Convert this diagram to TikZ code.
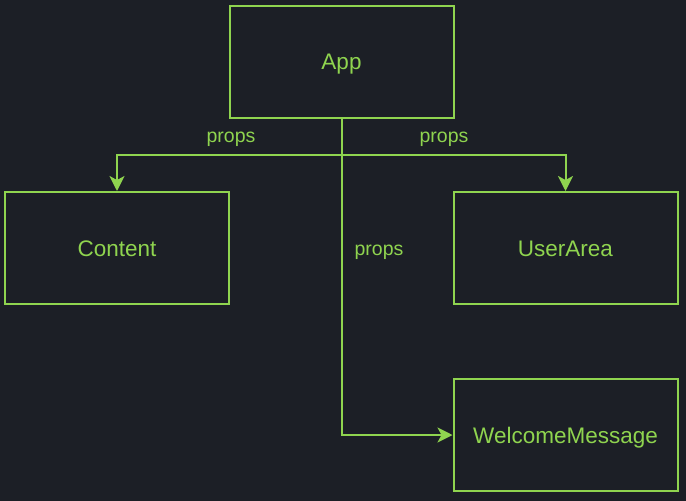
\documentclass[tikz,border=0pt]{standalone}
\usepackage{fontspec}
\setmainfont{Liberation Sans}
\usetikzlibrary{arrows.meta}
\definecolor{bg}{HTML}{1C1F26}
\definecolor{leaf}{HTML}{8FD44F}
\begin{document}
\begin{tikzpicture}[x=1pt,y=-1pt,
  comp/.style={draw=leaf,line width=2pt,text=leaf,font=\fontsize{22.5}{27}\selectfont,
    text height=16pt,text depth=0pt,
    minimum width=224pt,minimum height=112pt,inner sep=0pt},
  link/.style={draw=leaf,line width=2pt,-{Stealth[length=15pt,width=15pt,inset=4pt]}},
  lbl/.style={text=leaf,font=\fontsize{19.5}{23}\selectfont,inner sep=0pt,
    text height=10.5pt,text depth=0pt}]
  \fill[bg] (0,0) rectangle (686,501);
  \useasboundingbox (0,0) rectangle (686,501);
  % components
  \node[comp] (app) at (341.5,61.5) {App};
  \node[comp] (content) at (117,248) {Content};
  \node[comp] (user) at (565.5,248) {UserArea};
  \node[comp] (welcome) at (565.5,435) {WelcomeMessage};
  % props flow
  \coordinate (split) at (341.5,155);
  \draw[link] (app.south) -- (split) -| (content.north);
  \draw[link] (split) -| (user.north);
  \draw[link] (split) |- (welcome.west);
  % labels
  \node[lbl] (l1) at (231,137) {props};
  \node[lbl] (l2) at (444,137) {props};
  \node[lbl] (l3) at (379,250) {props};
\end{tikzpicture}
\end{document}
